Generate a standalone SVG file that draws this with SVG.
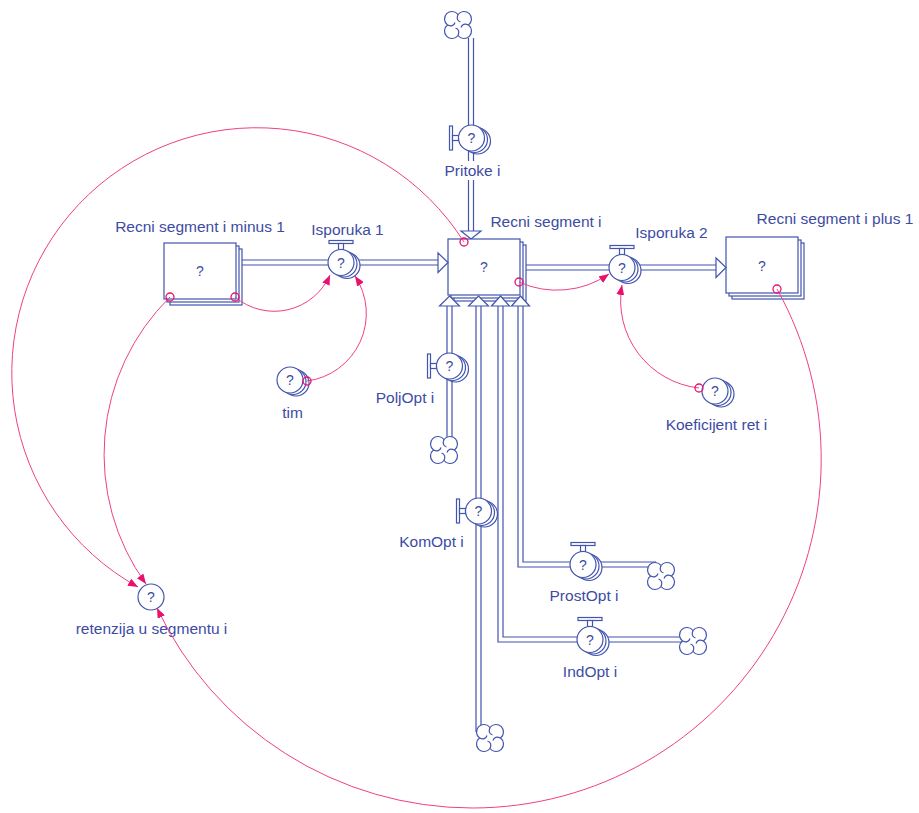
<svg xmlns="http://www.w3.org/2000/svg" width="919" height="813" viewBox="0 0 919 813">
<style>
.p{stroke:#4254ae;stroke-width:1.2;fill:none}
.b{stroke:#4254ae;stroke-width:1.2;fill:#fff}
.t{font-family:"Liberation Sans",Arial,sans-serif;font-size:15.5px;fill:#3d4ba3;text-anchor:middle}
.q{font-family:"Liberation Sans",Arial,sans-serif;font-size:14px;fill:#3d4ba3;text-anchor:middle}
.l{stroke:#ef3f88;stroke-width:1;fill:none}
.o{stroke:#e8136f;stroke-width:1.3;fill:none}
</style>
<defs>
<marker id="ah" markerUnits="userSpaceOnUse" markerWidth="10" markerHeight="8" refX="10" refY="4" orient="auto" viewBox="0 0 10 8"><path d="M0,0 L10,4 L0,8 Z" fill="#e8126e"/></marker>
<g id="vb"><circle class="b" cx="6" cy="3" r="13"/><circle class="b" cx="3" cy="1.5" r="13"/><circle class="b" cx="0" cy="0" r="13"/></g>
<g id="ht"><rect class="b" x="-12" y="-22" width="24" height="3"/><rect class="b" x="-2.5" y="-19" width="5" height="6"/></g>
<g id="hl"><rect class="b" x="-22" y="-12" width="3" height="24"/><rect class="b" x="-19" y="-2.5" width="6" height="5"/></g>
<g id="cloud"><path class="b" d="M0,-10.5 A7.5 7.5 0 1 1 10.5,0 A7.5 7.5 0 1 1 0,10.5 A7.5 7.5 0 1 1 -10.5,0 A7.5 7.5 0 1 1 0,-10.5 Z"/><path class="p" d="M0,-10.5 C-1.5,-7 -1,-4 2.5,-3 M10.5,0 C7,-1.5 4,-1 3,2.5 M0,10.5 C1.5,7 1,4 -2.5,3 M-10.5,0 C-7,1.5 -4,1 -3,-2.5"/></g>
</defs>
<rect width="919" height="813" fill="#fff"/>

<g id="flows">
<path class="p" d="M468.5,38 V231 M473.5,38 V231"/>
<path class="b" d="M461,231 H481 L471,239 Z"/>
<path class="p" d="M236,260 H438 M236,265 H438"/>
<path class="p" d="M520,265 H716 M520,270 H716"/>
<path class="p" d="M447,306 V441 M452,306 V441"/>
<path class="p" d="M476,306 V732 M481,306 V730"/>
<path class="p" d="M498,306 V642 H682 M503,306 V637 H682"/>
<path class="p" d="M518,306 V567 H652 M523,306 V562 H656"/>
</g>

<g id="clouds">
<use href="#cloud" x="458" y="25"/>
<use href="#cloud" x="444" y="450"/>
<use href="#cloud" x="490" y="738"/>
<use href="#cloud" x="661" y="576"/>
<use href="#cloud" x="693" y="641"/>
</g>

<g id="recni-segment-i-minus-1">
<rect class="b" x="170" y="249" width="72" height="56"/><rect class="b" x="167" y="246" width="72" height="56"/><rect class="b" x="164" y="243" width="72" height="56"/>
<text class="q" x="200" y="276">?</text>
<text class="t" x="200" y="232">Recni segment i minus 1</text>
</g>
<g id="recni-segment-i">
<rect class="b" x="454" y="245" width="72" height="56"/><rect class="b" x="451" y="242" width="72" height="56"/><rect class="b" x="448" y="239" width="72" height="56"/>
<text class="q" x="484" y="272">?</text>
<text class="t" x="546" y="227">Recni segment i</text>
</g>
<g id="recni-segment-i-plus-1">
<rect class="b" x="732" y="243" width="72" height="56"/><rect class="b" x="729" y="240" width="72" height="56"/><rect class="b" x="726" y="237" width="72" height="56"/>
<text class="q" x="762" y="271">?</text>
<text class="t" x="835" y="224">Recni segment i plus 1</text>
</g>

<g id="arrowheads">
<path class="b" d="M438,253 V272.5 L448,262.5 Z"/>
<path class="b" d="M716,258 V277.5 L726,267.5 Z"/>
<path class="b" d="M439.5,306 H459.5 L449.5,296 Z"/>
<path class="b" d="M468.5,306 H488.5 L478.5,296 Z"/>
<path class="b" d="M491.5,306 H509.5 L500.5,296 Z"/>
<path class="b" d="M511.5,306 H529.5 L520.5,296 Z"/>
</g>

<g id="pritoke-i">
<rect x="440" y="161" width="65" height="19" fill="#fff"/>
<use href="#hl" x="471.5" y="138"/><use href="#vb" x="471.5" y="138"/>
<text class="q" x="471.5" y="143">?</text>
<text class="t" x="472.5" y="176">Pritoke i</text>
</g>
<g id="isporuka-1">
<use href="#ht" x="341" y="262.5"/><use href="#vb" x="341" y="262.5"/>
<text class="q" x="341" y="267.5">?</text>
<text class="t" x="347.5" y="235">Isporuka 1</text>
</g>
<g id="isporuka-2">
<use href="#ht" x="622" y="267.5"/><use href="#vb" x="622" y="267.5"/>
<text class="q" x="622" y="272.5">?</text>
<text class="t" x="671.5" y="238">Isporuka 2</text>
</g>
<g id="poljopt-i">
<use href="#hl" x="449.5" y="366"/><use href="#vb" x="449.5" y="366"/>
<text class="q" x="449.5" y="371">?</text>
<text class="t" x="405" y="403">PoljOpt i</text>
</g>
<g id="komopt-i">
<use href="#hl" x="478.5" y="511"/><use href="#vb" x="478.5" y="511"/>
<text class="q" x="478.5" y="516">?</text>
<text class="t" x="431.5" y="547">KomOpt i</text>
</g>
<g id="prostopt-i">
<use href="#ht" x="583" y="564.5"/><use href="#vb" x="583" y="564.5"/>
<text class="q" x="583" y="569.5">?</text>
<text class="t" x="584" y="601">ProstOpt i</text>
</g>
<g id="indopt-i">
<use href="#ht" x="590" y="639.5"/><use href="#vb" x="590" y="639.5"/>
<text class="q" x="590" y="644.5">?</text>
<text class="t" x="590" y="677">IndOpt i</text>
</g>
<g id="tim">
<use href="#vb" x="290" y="380"/>
<text class="q" x="290" y="385">?</text>
<text class="t" x="292.5" y="418">tim</text>
</g>
<g id="koeficijent-ret-i">
<use href="#vb" x="715" y="391"/>
<text class="q" x="715" y="396">?</text>
<text class="t" x="716.5" y="430">Koeficijent ret i</text>
</g>
<g id="retenzija-u-segmentu-i">
<circle class="b" cx="151" cy="597" r="13"/>
<text class="q" x="151" y="602">?</text>
<text class="t" x="151.5" y="634">retenzija u segmentu i</text>
</g>

<g id="links">
<path class="l" marker-end="url(#ah)" d="M235,297 A61 61 0 0 0 330,275"/>
<path class="l" marker-end="url(#ah)" d="M307,381 A68 68 0 0 0 355,276"/>
<path class="l" marker-end="url(#ah)" d="M170,297 A221 221 0 0 0 146,584"/>
<path class="l" marker-end="url(#ah)" d="M464,242 A245 245 0 1 0 138,587"/>
<path class="l" marker-end="url(#ah)" d="M777,289 A349 349 0 0 1 472.5,808 A349 349 0 0 1 157,608"/>
<path class="l" marker-end="url(#ah)" d="M519,282 A92 92 0 0 0 609,274"/>
<path class="l" marker-end="url(#ah)" d="M699,388 A88 88 0 0 1 622,285"/>
<circle class="o" cx="235" cy="297" r="4"/>
<circle class="o" cx="307" cy="381" r="4"/>
<circle class="o" cx="170" cy="297" r="4"/>
<circle class="o" cx="464" cy="242" r="4"/>
<circle class="o" cx="777" cy="289" r="4"/>
<circle class="o" cx="519" cy="282" r="4"/>
<circle class="o" cx="699" cy="388" r="4"/>
</g>
</svg>
